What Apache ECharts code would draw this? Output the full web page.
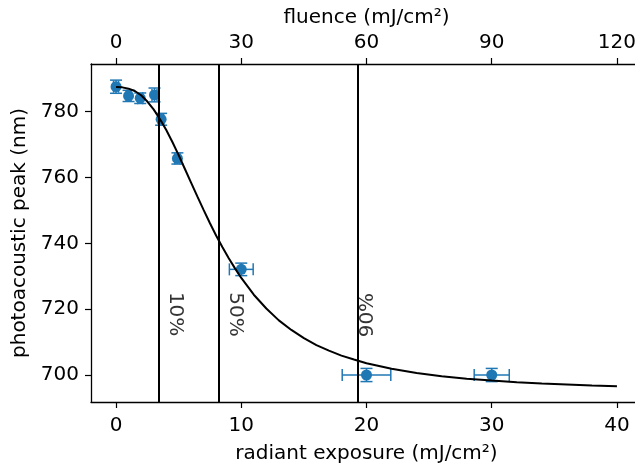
<!DOCTYPE html>
<html>
<head>
<meta charset="utf-8">
<script src="https://cdn.jsdelivr.net/npm/echarts@6/dist/echarts.min.js"></script>
<style>html,body{margin:0;padding:0;background:#fff;overflow:hidden;}#c{width:635px;height:464px;}</style>
</head>
<body>
<div id="c"></div>
<script>
// measured points (radiant exposure, peak) with error bars
const ptX   = [0, 1.0, 1.93, 3.07, 3.6, 4.9, 10, 20, 30];
const ptY   = [787.6, 784.8, 784.1, 785.1, 777.7, 765.8, 732.1, 700, 700];
const ptXErr = [0.2, 0.2, 0.2, 0.2, 0.2, 0.2, 0.95, 1.94, 1.4];
const ptYErr = [2.0, 1.7, 1.6, 2.1, 1.8, 1.7, 1.9, 2.0, 2.0];

// fitted curve
const curveX = [0, 0.5, 1, 1.5, 2, 2.5, 3, 3.5, 4, 4.5, 5, 5.5, 6, 6.5, 7, 7.5, 8, 8.5, 9, 9.5, 10,
                11, 12, 13, 14, 15, 16, 17, 18, 19, 20, 22, 24, 26, 28, 30, 32, 34, 36, 38, 40];
const curveY = [787.5, 787.4, 787.0, 786.3, 785.0, 783.1, 780.7, 777.8, 774.5, 770.8, 766.8, 762.6, 758.4, 754.2, 750.1, 746.1, 742.3, 738.8, 735.5, 732.4, 729.5,
                724.4, 720.2, 716.6, 713.7, 711.2, 709.1, 707.4, 705.9, 704.7, 703.6, 701.9, 700.6, 699.6, 698.9, 698.3, 697.8, 697.4, 697.1, 696.8, 696.6];

// threshold lines
const vLineX = [3.42, 8.19, 19.33];
const annText = ['10%', '50%', '90%'];
const annX = [4.73, 9.48, 20.1];
const annY = [718.5, 718.4, 718.2];
const annRot = [-90, -90, 90];

// tick labels
const bottomTicks = [0, 10, 20, 30, 40];
const topTicks = [0, 30, 60, 90, 120];
const yTicks = [700, 720, 740, 760, 780];

const FONT = 'DejaVu Sans';
const BLUE = '#1f77b4';

const chart = echarts.init(document.getElementById('c'));

const axisCommon = {
  axisLine: { show: true, onZero: false, lineStyle: { color: '#000', width: 1.3 } },
  axisTick: { show: true, inside: false, length: 6, lineStyle: { color: '#000', width: 1.2 } },
  splitLine: { show: false },
  nameTextStyle: { fontFamily: FONT, fontSize: 20, color: '#000' }
};

const option = {
  animation: false,
  backgroundColor: '#fff',
  grid: { left: 91, top: 64, width: 551, height: 338, containLabel: false, outerBoundsMode: 'none' },
  xAxis: [
    Object.assign({}, axisCommon, {
      type: 'value', position: 'bottom', min: -2, max: 42,
      name: 'radiant exposure (mJ/cm²)', nameLocation: 'middle', nameGap: 42,
      axisTick: Object.assign({}, axisCommon.axisTick, { customValues: bottomTicks }),
      axisLabel: { customValues: bottomTicks, margin: 14, fontFamily: FONT, fontSize: 20, color: '#000' }
    }),
    Object.assign({}, axisCommon, {
      type: 'value', position: 'top', min: -6, max: 126,
      name: 'fluence (mJ/cm²)', nameLocation: 'middle', nameGap: 34,
      axisTick: Object.assign({}, axisCommon.axisTick, { customValues: topTicks }),
      axisLabel: { customValues: topTicks, margin: 11, fontFamily: FONT, fontSize: 20, color: '#000' }
    })
  ],
  yAxis: [
    Object.assign({}, axisCommon, {
      type: 'value', min: 691.8, max: 794.5,
      name: 'photoacoustic peak (nm)', nameLocation: 'middle', nameGap: 52,
      axisTick: Object.assign({}, axisCommon.axisTick, { customValues: yTicks }),
      axisLabel: { customValues: yTicks, margin: 12, fontFamily: FONT, fontSize: 20, color: '#000' }
    })
  ],
  series: [
    {
      type: 'custom',
      xAxisIndex: 0, yAxisIndex: 0,
      z: 2,
      silent: true,
      data: ptX.map((x, i) => [x, ptY[i], ptXErr[i], ptYErr[i]]),
      renderItem: function (params, api) {
        const x = api.value(0), y = api.value(1), xe = api.value(2), ye = api.value(3);
        const l = api.coord([x - xe, y]), r = api.coord([x + xe, y]);
        const t = api.coord([x, y + ye]), b = api.coord([x, y - ye]);
        const cap = 6;
        const st = { stroke: BLUE, lineWidth: 1.5 };
        return {
          type: 'group',
          children: [
            { type: 'line', shape: { x1: l[0], y1: l[1], x2: r[0], y2: r[1] }, style: st },
            { type: 'line', shape: { x1: l[0], y1: l[1] - cap, x2: l[0], y2: l[1] + cap }, style: st },
            { type: 'line', shape: { x1: r[0], y1: r[1] - cap, x2: r[0], y2: r[1] + cap }, style: st },
            { type: 'line', shape: { x1: t[0], y1: t[1], x2: b[0], y2: b[1] }, style: st },
            { type: 'line', shape: { x1: t[0] - cap, y1: t[1], x2: t[0] + cap, y2: t[1] }, style: st },
            { type: 'line', shape: { x1: b[0] - cap, y1: b[1], x2: b[0] + cap, y2: b[1] }, style: st }
          ]
        };
      }
    },
    {
      type: 'scatter',
      xAxisIndex: 0, yAxisIndex: 0,
      z: 3,
      symbol: 'circle', symbolSize: 11,
      itemStyle: { color: BLUE, opacity: 1 },
      data: ptX.map((x, i) => [x, ptY[i]])
    },
    {
      type: 'line',
      xAxisIndex: 0, yAxisIndex: 0,
      z: 4,
      smooth: false,
      showSymbol: false, symbol: 'none',
      lineStyle: { color: '#000', width: 2 },
      data: curveX.map((x, i) => [x, curveY[i]]),
      markLine: {
        silent: true,
        symbol: ['none', 'none'],
        label: { show: false },
        lineStyle: { color: '#000', width: 2, type: 'solid' },
        data: vLineX.map(v => ({ xAxis: v }))
      }
    },
    {
      type: 'scatter',
      xAxisIndex: 0, yAxisIndex: 0,
      z: 5,
      symbolSize: 0,
      silent: true,
      data: annX.map((x, i) => ({
        value: [x, annY[i]],
        label: {
          show: true, formatter: annText[i], rotate: annRot[i], position: 'inside',
          align: 'center', verticalAlign: 'middle',
          fontFamily: FONT, fontSize: 20, color: '#000'
        }
      }))
    }
  ]
};
chart.setOption(option);
</script>
</body>
</html>
